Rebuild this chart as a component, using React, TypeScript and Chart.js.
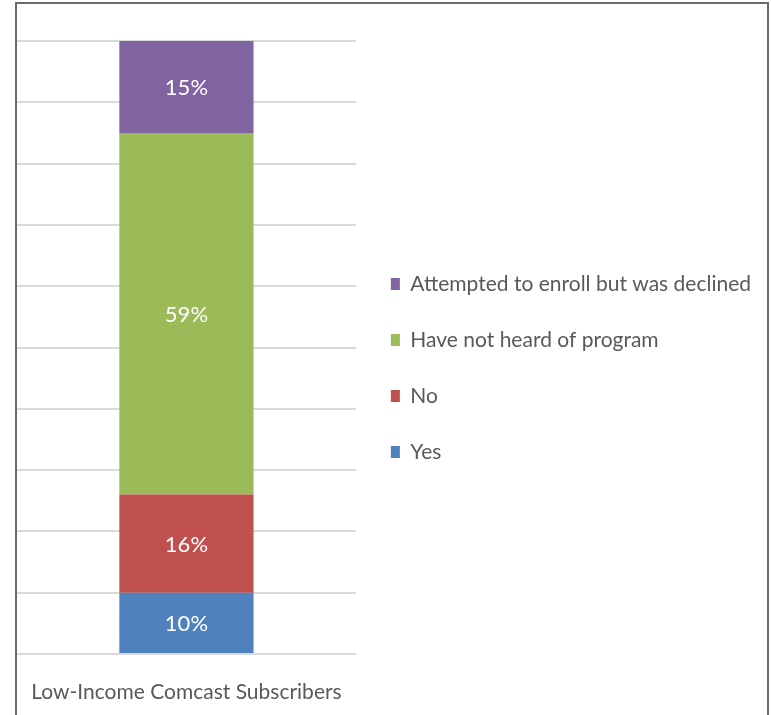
import React, { useEffect, useRef } from "react";
import { Chart, registerables } from "chart.js";

Chart.register(...registerables);

const categories = ["Low-Income Comcast Subscribers"];
const seriesNames = ["Yes", "No", "Have not heard of program", "Attempted to enroll but was declined"];
const yesValues = [10];
const noValues = [16];
const notHeardValues = [59];
const declinedValues = [15];
const seriesColors = ["#4F81BD", "#C0504D", "#9BBB59", "#8064A2"];
const yMax = 100;
const yStep = 10;

const FONT = "Lato, 'Open Sans', sans-serif";

const dataLabelPlugin = {
  id: "segmentLabels",
  afterDatasetsDraw(chart: any) {
    const ctx = chart.ctx;
    ctx.save();
    ctx.fillStyle = "#ffffff";
    ctx.font = `22px ${FONT}`;
    ctx.textAlign = "center";
    ctx.textBaseline = "middle";
    chart.data.datasets.forEach((ds: any, i: number) => {
      const meta = chart.getDatasetMeta(i);
      meta.data.forEach((el: any, j: number) => {
        const p = el.getCenterPoint();
        ctx.fillText(`${ds.data[j]}%`, p.x, p.y + 1);
      });
    });
    ctx.restore();
  },
};

export default function App() {
  const ref = useRef<HTMLCanvasElement | null>(null);
  useEffect(() => {
    if (!ref.current) return;
    const values = [yesValues, noValues, notHeardValues, declinedValues];
    const chart = new Chart(ref.current, {
      type: "bar",
      data: {
        labels: categories,
        datasets: seriesNames.map((name, i) => ({
          label: name,
          data: values[i],
          backgroundColor: seriesColors[i],
          borderWidth: 0,
          categoryPercentage: 1,
          barPercentage: 0.396,
        })),
      },
      options: {
        animation: false,
        responsive: false,
        maintainAspectRatio: false,
        layout: { padding: { left: 17, top: 41, bottom: 5, right: 10 } },
        plugins: {
          tooltip: { enabled: false },
          legend: {
            position: "right",
            reverse: true,
            fullSize: false,
            maxWidth: 500,
            title: {
              display: true,
              text: "",
              padding: { top: 40, bottom: 0 },
              font: { family: FONT, size: 1, lineHeight: "1px" },
            },
            labels: {
              boxWidth: 9,
              boxHeight: 12,
              padding: 35,
              color: "#595959",
              font: { family: FONT, size: 21 },
            },
          },
        },
        scales: {
          x: {
            stacked: true,
            grid: { display: false, drawTicks: false },
            border: { display: false },
            ticks: {
              color: "#595959",
              font: { family: FONT, size: 21, lineHeight: "20px" },
              padding: 8,
              callback: (_v: any, i: number) => ["", categories[i]],
            },
          },
          y: {
            stacked: true,
            min: 0,
            max: yMax,
            ticks: { display: false, stepSize: yStep },
            grid: { color: "#d9d9d9", lineWidth: 2, drawTicks: false },
            border: { display: false },
          },
        },
      },
      plugins: [dataLabelPlugin],
    });
    return () => chart.destroy();
  }, []);
  return (
    <div style={{ position: "absolute", left: 0, top: 0, width: 771, height: 715, overflow: "hidden", background: "#fff" }}>
      <canvas ref={ref} width={771} height={715} style={{ position: "absolute", left: 0, top: 0 }} />
      <div
        style={{
          position: "absolute",
          left: 15,
          top: 2,
          width: 750,
          height: 800,
          borderLeft: "2px solid #6a6a6a",
          borderTop: "2px solid #6a6a6a",
          borderRight: "2px solid #6a6a6a",
          pointerEvents: "none",
        }}
      />
    </div>
  );
}
